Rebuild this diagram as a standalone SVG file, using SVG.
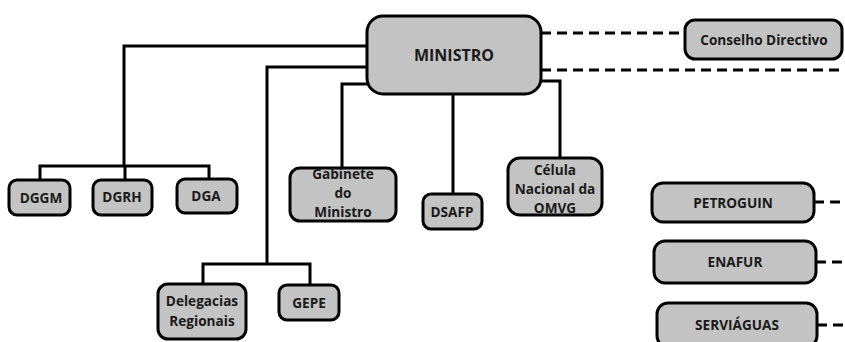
<svg xmlns="http://www.w3.org/2000/svg" width="845" height="342" viewBox="0 0 845 342">
  <style>
    .box { fill: #c3c3c3; stroke: #000; stroke-width: 3; }
    .ln { fill: none; stroke: #000; stroke-width: 3; }
    .dash { fill: none; stroke: #000; stroke-width: 3; stroke-dasharray: 10 6; }
    text { font-family: "Open Sans", "Liberation Sans", sans-serif; font-weight: bold; fill: #1a1a1a; text-anchor: middle; font-size: 13.6px; }
    .big { font-size: 16px; }
  </style>
  <rect width="845" height="342" fill="#fff"/>

  <g id="connectors">
    <!-- solid lines from the minister -->
    <polyline class="ln" points="367,46 124,46 124,166"/>
    <polyline class="ln" points="40,180 40,166 209,166 209,179"/>
    <line class="ln" x1="125" y1="166" x2="125" y2="180"/>
    <polyline class="ln" points="367,67 267,67 267,264"/>
    <polyline class="ln" points="203,284 203,264 310,264 310,285"/>
    <polyline class="ln" points="367,84 342,84 342,168"/>
    <line class="ln" x1="453" y1="94" x2="453" y2="194"/>
    <polyline class="ln" points="541,81 560,81 560,158"/>
    <!-- dashed links -->
    <line class="dash" x1="541" y1="33" x2="685" y2="33"/>
    <line class="dash" x1="541" y1="70" x2="845" y2="70"/>
    <line class="dash" x1="814" y1="202" x2="845" y2="202"/>
    <line class="dash" x1="816" y1="262" x2="845" y2="262"/>
    <line class="dash" x1="817" y1="325" x2="845" y2="325"/>
  </g>

  <g id="ministro">
    <rect class="box" x="367" y="16" width="174" height="78" rx="16"/>
    <text class="big" x="454" y="61">MINISTRO</text>
  </g>
  <g id="conselho">
    <rect class="box" x="685" y="20" width="157" height="39" rx="10"/>
    <text x="764" y="45">Conselho Directivo</text>
  </g>

  <g id="dggm">
    <rect class="box" x="9" y="180" width="61" height="35" rx="8"/>
    <text x="41" y="203">DGGM</text>
  </g>
  <g id="dgrh">
    <rect class="box" x="93" y="180" width="59" height="35" rx="8"/>
    <text x="122" y="202">DGRH</text>
  </g>
  <g id="dga">
    <rect class="box" x="177" y="179" width="60" height="34" rx="8"/>
    <text x="206" y="201">DGA</text>
  </g>

  <g id="gabinete">
    <rect class="box" x="290" y="168" width="106" height="53" rx="10"/>
    <text x="343" y="179">Gabinete</text>
    <text x="343" y="198">do</text>
    <text x="343" y="217">Ministro</text>
  </g>
  <g id="dsafp">
    <rect class="box" x="423" y="194" width="59" height="35" rx="8"/>
    <text x="452" y="217">DSAFP</text>
  </g>
  <g id="celula">
    <rect class="box" x="508" y="158" width="94" height="57" rx="12"/>
    <text x="555" y="175">Célula</text>
    <text x="555" y="194">Nacional da</text>
    <text x="555" y="213">OMVG</text>
  </g>

  <g id="delegacias">
    <rect class="box" x="158" y="284" width="88" height="55" rx="10"/>
    <text x="202" y="306">Delegacias</text>
    <text x="202" y="326">Regionais</text>
  </g>
  <g id="gepe">
    <rect class="box" x="279" y="285" width="60" height="35" rx="8"/>
    <text x="309" y="308">GEPE</text>
  </g>

  <g id="petroguin">
    <rect class="box" x="652" y="183" width="162" height="39" rx="11"/>
    <text x="733" y="208">PETROGUIN</text>
  </g>
  <g id="enafur">
    <rect class="box" x="654" y="241" width="162" height="42" rx="11"/>
    <text x="735" y="267">ENAFUR</text>
  </g>
  <g id="serviaguas">
    <rect class="box" x="657" y="303" width="160" height="44" rx="11"/>
    <text x="737" y="330">SERVIÁGUAS</text>
  </g>
</svg>
